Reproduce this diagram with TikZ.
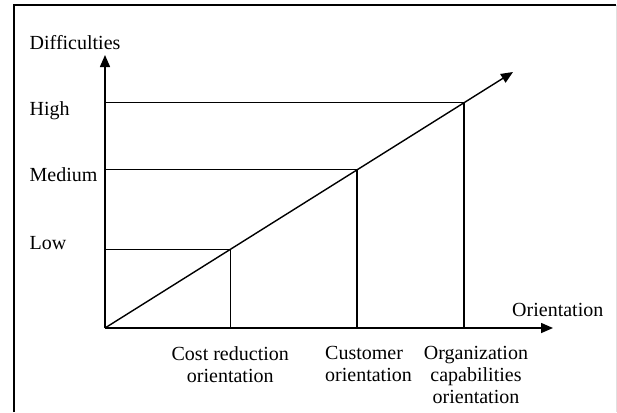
\documentclass[tikz,border=0pt]{standalone}
\usepackage{fontspec}
\setmainfont{Liberation Serif}
\usepackage{tikz}
\usetikzlibrary{arrows.meta, calc}

\tikzset{
    lbl/.style={inner sep=0pt, font=\fontsize{20}{22}\selectfont},
    axis/.style={line width=1.5pt, -{Triangle[length=12pt, width=10pt]}},
    guide/.style={line width=1.4pt}
}

\begin{document}
\begin{tikzpicture}[x=1pt, y=-1pt]
        \useasboundingbox (0,0) rectangle (617,412);

        % ==========================================
        % Frame
        % ==========================================
        \draw[line width=1.5pt] (14,412) -- (14,5) -- (616,5);
        \draw[black!12, line width=1pt] (616,5) -- (616,412);

        % ==========================================
        % Axes and diagonal
        % ==========================================
        \coordinate (orig) at (105,328);
        \coordinate (ytip) at (105,55);
        \coordinate (xtip) at (553,328);
        \coordinate (dtip) at (513,72);

        \draw[axis] (orig) -- (ytip);
        \draw[axis] (orig) -- (xtip);
        \draw[axis, line width=1.4pt] (orig) -- (dtip);

        % Points on the diagonal
        \coordinate (low)  at ($(orig)!0.307!(dtip)$);
        \coordinate (med)  at ($(orig)!0.618!(dtip)$);
        \coordinate (high) at ($(orig)!0.880!(dtip)$);

        % ==========================================
        % Guide lines
        % ==========================================
        \foreach \p in {low, med, high} {
            \draw[guide] (\p -| orig) -- (\p) -- (\p |- orig);
        }

        % ==========================================
        % Labels
        % ==========================================
        \node[lbl, anchor=base west] (ylab) at (29.5,49) {Difficulties};
        \node[lbl, anchor=base west] (lblhigh) at (29.5,115) {High};
        \node[lbl, anchor=base west] (lblmed) at (29.5,181) {Medium};
        \node[lbl, anchor=base west] (lbllow) at (29.5,249) {Low};
        \node[lbl, anchor=base west] (xlab) at (512,316.5) {Orientation};

        \node[lbl, anchor=north, align=center] (cost) at (low |- 0,346)
            {Cost reduction\\orientation};
        \node[lbl, anchor=north west, align=left] (cust) at (325,346)
            {Customer\\orientation};
        \node[lbl, anchor=north, align=center] (orgcap) at (476,346)
            {Organization\\capabilities\\orientation};

    \end{tikzpicture}
\end{document}
